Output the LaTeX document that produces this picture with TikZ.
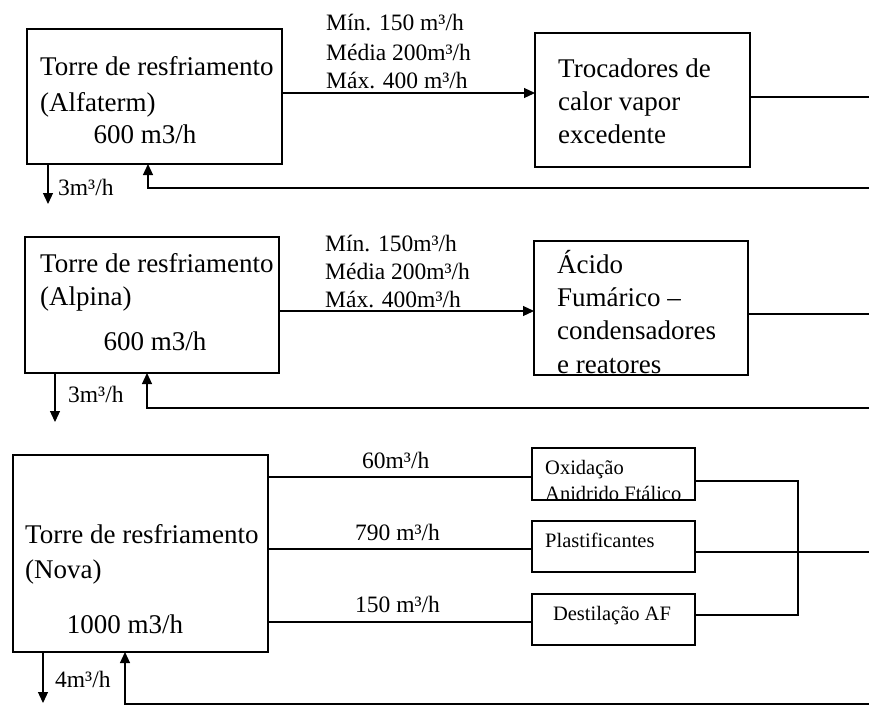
\documentclass[tikz,border=0pt]{standalone}
\usepackage{fontspec}
\setmainfont{Liberation Serif}
\usetikzlibrary{arrows.meta}
\begin{document}
\begin{tikzpicture}[x=1pt,y=-1pt,
  unit/.style={draw, line width=1.2pt, outer sep=0pt, inner sep=0pt, anchor=north west},
  wire/.style={line width=1.2pt},
  flow/.style={line width=1.2pt, -{Triangle[length=11pt,width=10pt]}},
  bigtxt/.style={font=\fontsize{27}{32}\selectfont, anchor=base west, inner sep=0pt},
  flowtxt/.style={font=\fontsize{23.5}{28}\selectfont, anchor=base west, inner sep=0pt},
  smalltxt/.style={font=\fontsize{20.5}{24}\selectfont, anchor=base west, inner sep=0pt}
]
\useasboundingbox (0,0) rectangle (869,705);

% ---------- Alfaterm ----------
\node[unit, minimum width=255pt, minimum height=135pt] (t1) at (27,29) {};
\node[unit, minimum width=215pt, minimum height=134pt] (b1) at (535,33) {};
\node[bigtxt] (t1a) at (40,75) {Torre de resfriamento};
\node[bigtxt] (t1b) at (40,111) {(Alfaterm)};
\node[bigtxt, anchor=base] (t1c) at (145,143) {600 m3/h};
\node[bigtxt] (b1a) at (558,77) {Trocadores de};
\node[bigtxt] (b1b) at (558,110) {calor vapor};
\node[bigtxt] (b1c) at (558,143) {excedente};
\node[flowtxt] (f1a) at (326,30) {Mín. 150 m³/h};
\node[flowtxt] (f1b) at (326,60) {Média 200m³/h};
\node[flowtxt] (f1c) at (326,88) {Máx. 400 m³/h};
\node[flowtxt] (p1) at (58,195) {3m³/h};

\coordinate (y1) at (0,93);
\coordinate (y1o) at (0,97);
\coordinate (e1) at (869,97);
\coordinate (r1) at (869,188);
\coordinate (u1) at (148,188);
\coordinate (d1) at (48,204);
\draw[flow] (t1.east |- y1) -- (b1.west |- y1);
\draw[wire] (b1.east |- y1o) -- (e1);
\draw[flow] (r1) -- (u1) -- (t1.south -| u1);
\draw[flow] (t1.south -| d1) -- (d1);

% ---------- Alpina ----------
\node[unit, minimum width=254pt, minimum height=136pt] (t2) at (25,237) {};
\node[unit, minimum width=214pt, minimum height=134pt] (b2) at (534,241) {};
\node[bigtxt] (t2a) at (40,272) {Torre de resfriamento};
\node[bigtxt] (t2b) at (40,305) {(Alpina)};
\node[bigtxt, anchor=base] (t2c) at (155,350) {600 m3/h};
\node[bigtxt] (b2a) at (557,273) {Ácido};
\node[bigtxt] (b2b) at (557,306) {Fumárico –};
\node[bigtxt] (b2c) at (557,339) {condensadores};
\node[bigtxt] (b2d) at (557,373) {e reatores};
\node[flowtxt] (f2a) at (325,251) {Mín. 150m³/h};
\node[flowtxt] (f2b) at (325,279) {Média 200m³/h};
\node[flowtxt] (f2c) at (325,307) {Máx. 400m³/h};
\node[flowtxt] (p2) at (68,402) {3m³/h};

\coordinate (y2) at (0,311);
\coordinate (y2o) at (0,314);
\coordinate (e2) at (869,314);
\coordinate (r2) at (869,408);
\coordinate (u2) at (147,408);
\coordinate (d2) at (55,422);
\draw[flow] (t2.east |- y2) -- (b2.west |- y2);
\draw[wire] (b2.east |- y2o) -- (e2);
\draw[flow] (r2) -- (u2) -- (t2.south -| u2);
\draw[flow] (t2.south -| d2) -- (d2);

% ---------- Nova ----------
\node[unit, minimum width=255pt, minimum height=197pt] (t3) at (13,455) {};
\node[unit, minimum width=163pt, minimum height=52pt] (s1) at (532,448) {};
\node[unit, minimum width=163pt, minimum height=51pt] (s2) at (532,521) {};
\node[unit, minimum width=163pt, minimum height=51pt] (s3) at (532,594) {};
\node[bigtxt] (t3a) at (25,543) {Torre de resfriamento};
\node[bigtxt] (t3b) at (25,578) {(Nova)};
\node[bigtxt, anchor=base] (t3c) at (125,633) {1000 m3/h};
\node[smalltxt] (s1a) at (545,474) {Oxidação};
\node[smalltxt] (s1b) at (545,500) {Anidrido Ftálico};
\node[smalltxt] (s2a) at (545,547) {Plastificantes};
\node[smalltxt, anchor=base] (s3a) at (612,620) {Destilação AF};
\node[flowtxt] (f3a) at (362,468) {60m³/h};
\node[flowtxt] (f3b) at (355,540) {790 m³/h};
\node[flowtxt] (f3c) at (355,612) {150 m³/h};
\node[flowtxt] (p3) at (55,687) {4m³/h};

\coordinate (ya) at (0,477);
\coordinate (yb) at (0,549);
\coordinate (yc) at (0,622);
\coordinate (j1) at (798,481);
\coordinate (j2) at (798,615);
\coordinate (yp) at (0,552);
\coordinate (e3) at (869,552);
\coordinate (r3) at (869,704);
\coordinate (u3) at (125,704);
\coordinate (d3) at (43,703);
\draw[wire] (t3.east |- ya) -- (s1.west |- ya);
\draw[wire] (t3.east |- yb) -- (s2.west |- yb);
\draw[wire] (t3.east |- yc) -- (s3.west |- yc);
\draw[wire] (s1.east |- j1) -- (j1) -- (j2) -- (s3.east |- j2);
\draw[wire] (s2.east |- yp) -- (e3);
\draw[flow] (r3) -- (u3) -- (t3.south -| u3);
\draw[flow] (t3.south -| d3) -- (d3);
\end{tikzpicture}
\end{document}
